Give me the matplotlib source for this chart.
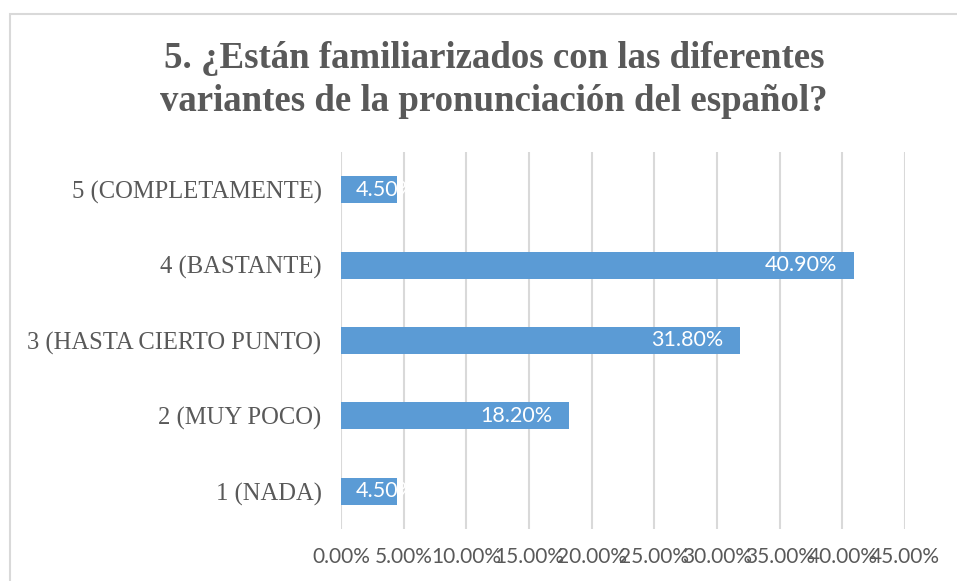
import matplotlib
matplotlib.use("Agg")
import matplotlib.pyplot as plt
from matplotlib.patches import Rectangle

categories = ["1 (NADA)", "2 (MUY POCO)", "3 (HASTA CIERTO PUNTO)",
              "4 (BASTANTE)", "5 (COMPLETAMENTE)"]
values = [4.5, 18.2, 31.8, 40.9, 4.5]
bar_labels = ["4.50%", "18.20%", "31.80%", "40.90%", "4.50%"]
xticks = [0, 5, 10, 15, 20, 25, 30, 35, 40, 45]

title = "5. ¿Están familiarizados con las diferentes\nvariantes de la pronunciación del español?"

GRAY = "#595959"
BLUE = "#5B9BD5"

fig = plt.figure(figsize=(9.57, 5.81), dpi=100)
ax = fig.add_axes([341 / 957, 1 - 529 / 581, (905 - 341) / 957, (529 - 152) / 581])

# chart area border (runs off the right/bottom edge like the screenshot)
fig.patches.append(Rectangle((10 / 957, -0.05), 1.2, 1 - 14 / 581 + 0.05,
                             transform=fig.transFigure, fill=False,
                             edgecolor="#D9D9D9", linewidth=1.5))

y = list(range(len(categories)))
bars = ax.barh(y, values, height=0.36, color=BLUE, zorder=2)

# value labels, white, inside end; clipped to the bar like Excel does
for b, v, lab in zip(bars, values, bar_labels):
    yc = b.get_y() + b.get_height() / 2
    if v < 8:
        t = ax.text(1.2, yc, lab, ha="left", va="center",
                    color="white", fontsize=15.5, family="Lato", zorder=3)
    else:
        t = ax.text(v - 1.3, yc, lab, ha="right", va="center",
                    color="white", fontsize=15.5, family="Lato", zorder=3)
    t.set_clip_path(b)

ax.set_xlim(0, 45)
ax.set_ylim(-0.5, 4.5)
ax.set_xticks(xticks)
ax.set_xticklabels(["%.2f%%" % x for x in xticks], family="Lato", fontsize=15, color=GRAY)
ax.set_yticks(y)
ax.set_yticklabels(categories, family="Liberation Serif", fontsize=17.7, color=GRAY)
ax.tick_params(axis="x", length=0, pad=13)
ax.tick_params(axis="y", length=0, pad=14)
ax.grid(axis="x", color="#D9D9D9", linewidth=1.5, zorder=0)
for s in ax.spines.values():
    s.set_visible(False)

fig.text(494 / 957, 1 - 80 / 581, title, ha="center", va="center", family="Liberation Serif",
         fontweight="bold", fontsize=26.6, color=GRAY, linespacing=1.3)

fig.savefig("out.png", dpi=100)
